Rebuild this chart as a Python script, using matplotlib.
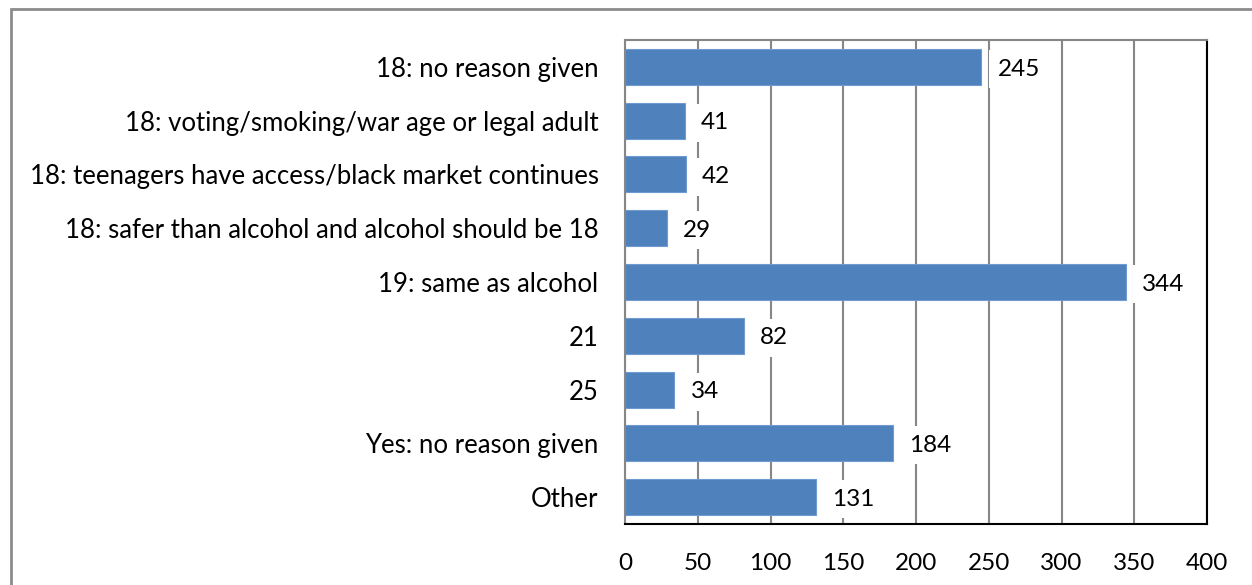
import matplotlib.pyplot as plt
import matplotlib.patches as patches

categories = [
    "18: no reason given",
    "18: voting/smoking/war age or legal adult",
    "18: teenagers have access/black market continues",
    "18: safer than alcohol and alcohol should be 18",
    "19: same as alcohol",
    "21",
    "25",
    "Yes: no reason given",
    "Other",
]
counts = [245, 41, 42, 29, 344, 82, 34, 184, 131]
xticks = [0, 50, 100, 150, 200, 250, 300, 350, 400]

plt.rcParams["font.family"] = ["Lato", "DejaVu Sans"]

fig = plt.figure(figsize=(12.52, 5.85), dpi=100)
ax = fig.add_axes([625 / 1252, 61 / 585, 582 / 1252, 484 / 585])

# outer chart frame
frame = patches.Rectangle((11 / 1252, -0.1), 1.2, 1 - 9 / 585 + 0.1,
                          transform=fig.transFigure, fill=False,
                          edgecolor="#8c8c8c", linewidth=2)
fig.add_artist(frame)

ypos = list(range(len(categories)))
ax.barh(ypos, counts, height=0.67, color="#4f81bd", edgecolor="#6f9bd1",
        linewidth=0.8, zorder=2)

for y, v in zip(ypos, counts):
    ax.text(v + 11, y + 0.04, str(v), va="center", ha="left", fontsize=17.5,
            zorder=3,
            bbox=dict(boxstyle="square,pad=0.35", facecolor="white",
                      edgecolor="none"))

ax.set_ylim(len(categories) - 0.5, -0.5)
ax.set_xlim(0, 400)
ax.set_xticks(xticks)
ax.set_yticks(ypos)
ax.set_yticklabels(categories, fontsize=18.5)
ax.tick_params(axis="x", labelsize=17.5, length=0, pad=21)
ax.tick_params(axis="y", length=0, pad=19)
ax.xaxis.grid(True, color="#868686", linewidth=1.5, zorder=0)
ax.set_axisbelow(True)

for side in ["top", "left"]:
    ax.spines[side].set_color("#868686")
    ax.spines[side].set_linewidth(1.5)
for side in ["right", "bottom"]:
    ax.spines[side].set_color("black")
    ax.spines[side].set_linewidth(1.5)

fig.savefig("out.png", dpi=100)
